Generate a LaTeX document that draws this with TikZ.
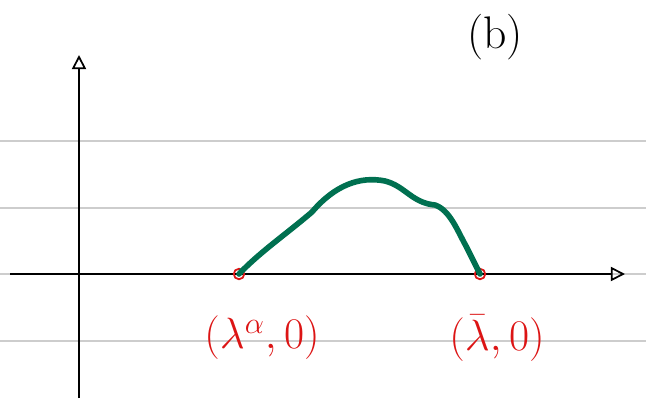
\documentclass[tikz,border=0pt]{standalone}
\usepackage{amsmath}
\usepackage{amssymb}
\definecolor{curveGreen}{RGB}{0, 112, 80}
\definecolor{markRed}{RGB}{220, 20, 20}
\definecolor{ruleGray}{RGB}{205, 205, 205}
\usetikzlibrary{arrows.meta, positioning, calc}

\begin{document}
\begin{tikzpicture}[x=0.02cm, y=-0.02cm,
    rule/.style={ruleGray, line width=0.6pt},
    axis/.style={black, line width=1pt, -{Triangle[open, length=8pt, width=8pt]}},
    hump/.style={curveGreen, line width=3.2pt, line cap=round, line join=round},
    endmark/.style={circle, draw=markRed, line width=1pt, inner sep=0pt, minimum size=6pt},
    ptlabel/.style={markRed, font=\fontsize{26}{30}\selectfont}]
                \useasboundingbox (0,0) rectangle (646,403);

                % ruled paper lines
                \foreach \yy in {141, 208, 274, 341}
                    \draw[rule] (0,\yy) -- (646,\yy);

                % axes
                \coordinate (xstart) at (10,274);
                \coordinate (xend) at (625,274);
                \coordinate (ystart) at (79,398);
                \coordinate (yend) at (79,55);
                \draw[axis] (xstart) -- (xend);
                \draw[axis] (ystart) -- (yend);

                \node[font=\fontsize{26}{30}\selectfont] (panel) at (495,37) {(b)};

                % end points on the axis
                \node[endmark] (left) at (239,274) {};
                \node[endmark] (right) at (480,274) {};

                % the hump
                \draw[hump] (left.center) .. controls (260,252) and (285,235) .. (312,212)
                    .. controls (335,185) and (360,176) .. (385,181)
                    .. controls (405,186) and (412,203) .. (435,205)
                    .. controls (450,210) and (458,232) .. (466,246)
                    -- (right.center);

                \node[ptlabel] (leftlab) at (262,338) {$(\lambda^{\alpha},0)$};
                \node[ptlabel] (rightlab) at (497,338) {$(\bar{\lambda},0)$};
            \end{tikzpicture}
\end{document}
